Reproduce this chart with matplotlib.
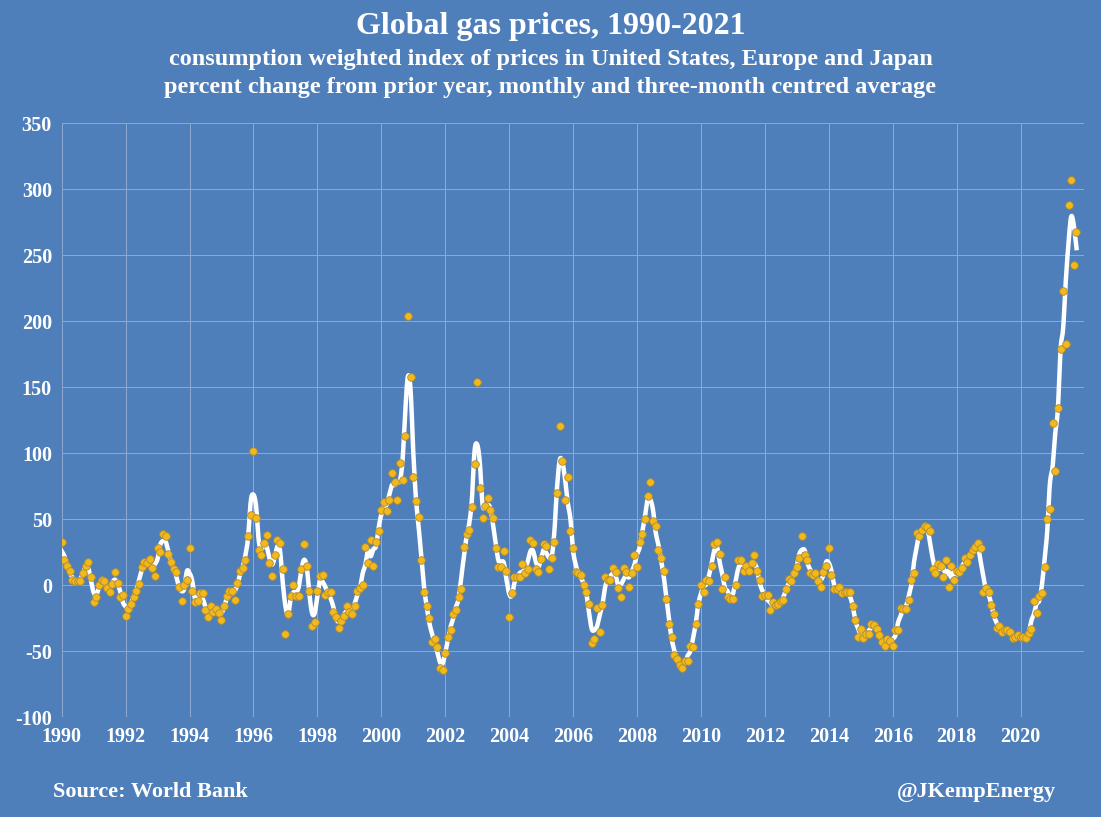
import numpy as np
import matplotlib
matplotlib.use("Agg")
import matplotlib.pyplot as plt

# monthly percent change from prior year
y1990 = [33, 19, 15, 11, 4, 3, 3, 3, 9, 15, 18, 6]
y1991 = [-13, -9, 0, 4, 3, -2, -5, 1, 10, 2, -9, -7]
y1992 = [-23, -18, -14, -9, -4, 1, 14, 18, 17, 20, 13, 7]
y1993 = [28, 25, 39, 37, 24, 18, 12, 10, -1, -12, 0, 4]
y1994 = [28, -4, -13, -12, -6, -6, -19, -24, -16, -20, -18, -21]
y1995 = [-26, -16, -8, -4, -4, -11, 2, 11, 13, 19, 37, 53]
y1996 = [102, 51, 27, 23, 32, 38, 17, 7, 23, 34, 32, 12]
y1997 = [-37, -22, -8, 0, -8, -8, 12, 31, 15, -4, -31, -28]
y1998 = [-4, 7, 8, -7, -5, -5, -20, -24, -32, -27, -23, -16]
y1999 = [-20, -22, -16, -4, -2, 0, 29, 17, 34, 15, 33, 41]
y2000 = [57, 63, 56, 65, 85, 78, 65, 93, 80, 113, 204, 158]
y2001 = [82, 64, 52, 19, -5, -16, -25, -43, -41, -47, -63, -64]
y2002 = [-51, -39, -34, -22, -19, -9, -3, 29, 39, 42, 59, 92]
y2003 = [154, 74, 51, 60, 66, 57, 51, 28, 14, 14, 26, 11]
y2004 = [-24, -6, 6, 6, 6, 16, 9, 12, 34, 32, 12, 10]
y2005 = [20, 31, 30, 12, 21, 33, 70, 121, 94, 65, 82, 41]
y2006 = [28, 10, 9, 8, 0, -5, -14, -44, -41, -17, -35, -15]
y2007 = [6, 4, 4, 13, 10, -2, -9, 13, 10, -1, 9, 23]
y2008 = [14, 33, 39, 50, 68, 78, 49, 45, 27, 21, 11, -10]
y2009 = [-29, -39, -53, -56, -60, -63, -57, -57, -46, -47, -29, -14]
y2010 = [0, -5, 4, 3, 15, 31, 33, 24, -3, 6, -9, -10]
y2011 = [-10, 0, 19, 19, 11, 15, 11, 17, 23, 11, 4, -8]
y2012 = [-7, -7, -19, -13, -15, -14, -12, -11, -3, 5, 3, 9]
y2013 = [14, 21, 37, 23, 19, 9, 8, 9, 3, -1, 10, 15]
y2014 = [28, 8, -3, -3, -1, -6, -5, -5, -5, -16, -26, -39]
y2015 = [-33, -40, -37, -37, -29, -30, -33, -38, -43, -46, -41, -42]
y2016 = [-46, -34, -34, -17, -18, -18, -11, 4, 9, 40, 37, 42]
y2017 = [45, 44, 41, 12, 9, 16, 15, 6, 19, -1, 15, 4]
y2018 = [11, 10, 13, 21, 18, 23, 27, 29, 32, 28, -5, -2]
y2019 = [-5, -15, -22, -32, -31, -35, -34, -34, -35, -40, -39, -38]
y2020 = [-39, -39, -40, -36, -33, -12, -21, -8, -6, 14, 50, 58]
y2021 = [123, 87, 134, 179, 223, 183, 288, 307, 243, 268]

years = [y1990, y1991, y1992, y1993, y1994, y1995, y1996, y1997, y1998, y1999,
         y2000, y2001, y2002, y2003, y2004, y2005, y2006, y2007, y2008, y2009,
         y2010, y2011, y2012, y2013, y2014, y2015, y2016, y2017, y2018, y2019,
         y2020, y2021]
vals = np.array([v for yr in years for v in yr], dtype=float)
t = 1990 + np.arange(len(vals)) / 12.0

# three-month centred average
avg = np.convolve(vals, np.ones(3) / 3, mode="same")
avg[0] = (vals[0] + vals[1]) / 2
avg[-1] = (vals[-1] + vals[-2]) / 2

# smooth the line a little (Catmull-Rom through the averages)
def catmull(x, y, n=8):
    xs, ys = [], []
    xp = np.concatenate([[x[0]], x, [x[-1]]])
    yp = np.concatenate([[y[0]], y, [y[-1]]])
    for i in range(1, len(xp) - 2):
        s = np.linspace(0, 1, n, endpoint=False)
        for arr, out in ((xp, xs), (yp, ys)):
            p0, p1, p2, p3 = arr[i - 1], arr[i], arr[i + 1], arr[i + 2]
            out.extend(0.5 * (2 * p1 + (-p0 + p2) * s + (2 * p0 - 5 * p1 + 4 * p2 - p3) * s ** 2
                              + (-p0 + 3 * p1 - 3 * p2 + p3) * s ** 3))
    xs.append(x[-1]); ys.append(y[-1])
    return np.array(xs), np.array(ys)

sx, sy = catmull(t, avg)

bg = "#4f7fba"
serif = ["Liberation Serif", "DejaVu Serif"]
fig = plt.figure(figsize=(11.01, 8.17), dpi=100, facecolor=bg)
ax = fig.add_axes([0.056, 0.122, 0.929, 0.727], facecolor=bg)

ax.plot(sx, sy, color="white", lw=3.2, zorder=2)
ax.scatter(t, vals, s=30, color="#f2b91c", edgecolors="#b08a30", linewidths=0.6, zorder=3)

ax.set_xlim(1990, 2022)
ax.set_ylim(-100, 350)
ax.set_xticks(range(1990, 2021, 2))
yt = list(range(-100, 351, 50))
ax.set_yticks(yt)
ax.set_yticklabels([str(v) for v in yt])
ax.grid(True, color="#8eaad2", lw=0.7)
for s in ax.spines.values():
    s.set_visible(False)
ax.tick_params(length=0, colors="white", pad=7)
for lab in ax.get_xticklabels() + ax.get_yticklabels():
    lab.set_family(serif)
    lab.set_fontweight("bold")
    lab.set_fontsize(14.5)

fig.text(0.5, 0.968, "Global gas prices, 1990-2021", ha="center", va="center",
         color="white", fontsize=23, fontweight="bold", family=serif)
fig.text(0.5, 0.927, "consumption weighted index of prices in United States, Europe and Japan",
         ha="center", va="center", color="white", fontsize=17.5, fontweight="bold", family=serif)
fig.text(0.5, 0.893, "percent change from prior year, monthly and three-month centred average",
         ha="center", va="center", color="white", fontsize=17.5, fontweight="bold", family=serif)
fig.text(0.048, 0.03, "Source: World Bank", ha="left", va="center",
         color="white", fontsize=16, fontweight="bold", family=serif)
fig.text(0.959, 0.03, "@JKempEnergy", ha="right", va="center",
         color="white", fontsize=16, fontweight="bold", family=serif)

fig.savefig("out.png", dpi=100, facecolor=bg)
